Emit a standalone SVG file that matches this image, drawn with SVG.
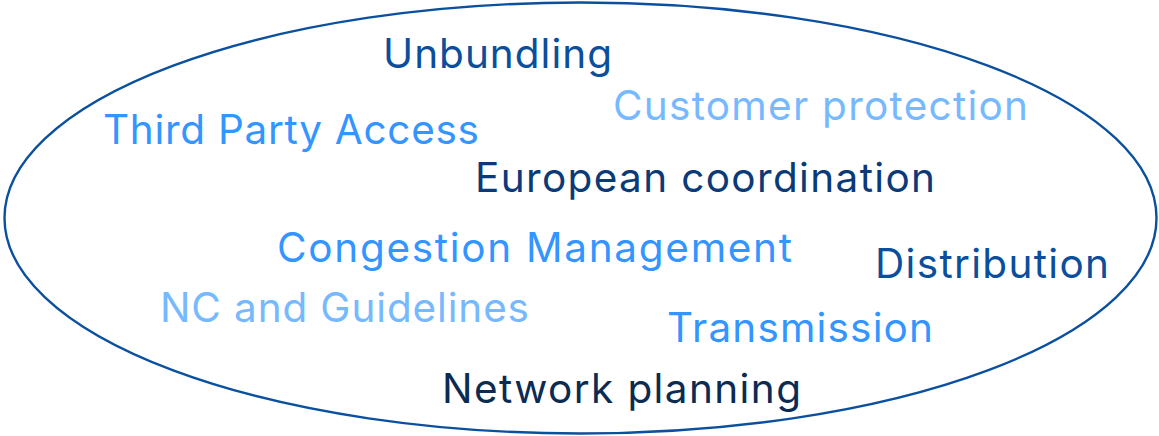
<svg xmlns="http://www.w3.org/2000/svg" width="1159" height="436" viewBox="0 0 1159 436">
  <style>
    text { font-family: Inter, "Noto Sans", "Liberation Sans", sans-serif; font-size: 40.5px; font-weight: 400; }
    .navy { fill: #0b2b52; }
    .dark { fill: #0a3a78; }
    .mid { fill: #0b4e9c; }
    .bright { fill: #3395ff; }
    .light { fill: #77b9ff; }
    .frame { fill: none; stroke: #0b509e; stroke-width: 2.4; }
  </style>
  <rect width="1159" height="436" fill="#ffffff"/>
  <g id="frame">
    <ellipse class="frame" cx="580.5" cy="218" rx="576" ry="215.5"/>
  </g>
  <g id="unbundling"><text class="mid" x="383" y="68" textLength="229" lengthAdjust="spacing">Unbundling</text></g>
  <g id="third-party-access"><text class="bright" x="103" y="143.5" textLength="376" lengthAdjust="spacing">Third Party Access</text></g>
  <g id="customer-protection"><text class="light" x="613" y="120" textLength="415" lengthAdjust="spacing">Customer protection</text></g>
  <g id="european-coordination"><text class="dark" x="475" y="192" textLength="460" lengthAdjust="spacing">European coordination</text></g>
  <g id="congestion-management"><text class="bright" x="277" y="262" textLength="515" lengthAdjust="spacing">Congestion Management</text></g>
  <g id="distribution"><text class="mid" x="875" y="278" textLength="234" lengthAdjust="spacing">Distribution</text></g>
  <g id="nc-guidelines"><text class="light" x="160" y="322" textLength="369" lengthAdjust="spacing">NC and Guidelines</text></g>
  <g id="transmission"><text class="bright" x="667" y="342" textLength="266" lengthAdjust="spacing">Transmission</text></g>
  <g id="network-planning"><text class="navy" x="442" y="403" textLength="359" lengthAdjust="spacing">Network planning</text></g>
</svg>
